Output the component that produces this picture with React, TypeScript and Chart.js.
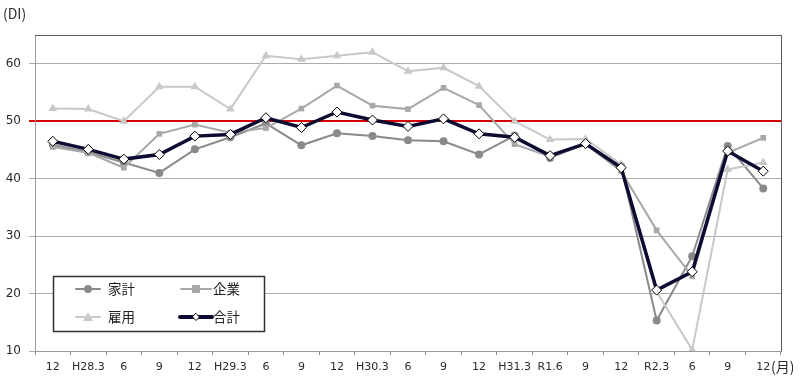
import React, { useEffect, useRef } from "react";
import { Chart, registerables } from "chart.js";

Chart.register(...registerables);

const categories = ["12", "H28.3", "6", "9", "12", "H29.3", "6", "9", "12", "H30.3", "6", "9", "12", "H31.3", "R1.6", "9", "12", "R2.3", "6", "9", "12"];
const kakei = [45.9, 44.6, 42.8, 41.0, 45.1, 47.2, 49.6, 45.8, 47.9, 47.4, 46.7, 46.5, 44.2, 47.5, 43.6, 46.1, 42.2, 15.3, 26.5, 45.7, 38.3];
const kigyo = [45.5, 44.5, 41.9, 47.8, 49.4, 48.0, 48.8, 52.2, 56.2, 52.7, 52.1, 55.8, 52.8, 46.0, 43.8, 46.0, 41.3, 31.0, 23.0, 44.5, 47.1];
const koyo = [52.2, 52.1, 50.0, 56.0, 56.0, 52.1, 61.4, 60.8, 61.4, 62.0, 58.7, 59.3, 56.1, 50.0, 46.8, 46.9, 42.5, 20.3, 10.2, 41.6, 42.8];
const gokei = [46.5, 45.1, 43.4, 44.2, 47.4, 47.7, 50.6, 48.9, 51.6, 50.2, 49.1, 50.4, 47.8, 47.2, 44.0, 46.1, 41.9, 20.6, 23.8, 44.8, 41.3];
const yTicks = [10, 20, 30, 40, 50, 60];
const legendLabels = ["家計", "企業", "雇用", "合計"];

const C_KAKEI = "#8a8a8a";
const C_KIGYO = "#a8a8a8";
const C_KOYO = "#c8c8c8";
const C_GOKEI = "#0c0c32";
const FONT = "'DejaVu Sans', sans-serif";
const CJK = "'Noto Sans CJK JP', sans-serif";

function drawMarker(ctx: CanvasRenderingContext2D, kind: string, x: number, y: number) {
  ctx.save();
  if (kind === "circle") {
    ctx.fillStyle = C_KAKEI;
    ctx.beginPath();
    ctx.arc(x, y, 4, 0, Math.PI * 2);
    ctx.fill();
  } else if (kind === "rect") {
    ctx.fillStyle = C_KIGYO;
    ctx.fillRect(x - 4, y - 4, 8, 8);
  } else if (kind === "triangle") {
    ctx.fillStyle = C_KOYO;
    ctx.beginPath();
    ctx.moveTo(x, y - 5);
    ctx.lineTo(x + 5, y + 4);
    ctx.lineTo(x - 5, y + 4);
    ctx.closePath();
    ctx.fill();
  } else {
    ctx.fillStyle = "#ffffff";
    ctx.strokeStyle = "#000000";
    ctx.lineWidth = 1;
    ctx.beginPath();
    ctx.moveTo(x, y - 3.5);
    ctx.lineTo(x + 3.5, y);
    ctx.lineTo(x, y + 3.5);
    ctx.lineTo(x - 3.5, y);
    ctx.closePath();
    ctx.fill();
    ctx.stroke();
  }
  ctx.restore();
}

const decorPlugin = {
  id: "decor",
  afterDraw(chart: any) {
    const ctx: CanvasRenderingContext2D = chart.ctx;
    const a = chart.chartArea;
    ctx.save();
    // top and right borders
    ctx.strokeStyle = "#5a5a5a";
    ctx.lineWidth = 1;
    ctx.beginPath();
    ctx.moveTo(a.left, a.top + 0.5);
    ctx.lineTo(a.right + 0.5, a.top + 0.5);
    ctx.lineTo(a.right + 0.5, a.bottom);
    ctx.stroke();

    // axis unit labels
    ctx.fillStyle = "#2a2a2a";
    ctx.font = "14px " + CJK;
    ctx.textBaseline = "middle";
    ctx.textAlign = "left";
    ctx.fillText("(DI)", 3, 14);
    ctx.fillText("(月)", 771, 367);

    // legend box
    const bx = 53, by = 276, bw = 211, bh = 55;
    ctx.fillStyle = "#ffffff";
    ctx.fillRect(bx, by, bw, bh);
    ctx.strokeStyle = "#333333";
    ctx.lineWidth = 1.5;
    ctx.strokeRect(bx + 0.5, by + 0.5, bw, bh);

    const items = [
      { label: legendLabels[0], color: C_KAKEI, kind: "circle", x1: 76, x2: 100, tx: 108, y: 289, w: 2 },
      { label: legendLabels[1], color: C_KIGYO, kind: "rect", x1: 181, x2: 211, tx: 213, y: 289, w: 2 },
      { label: legendLabels[2], color: C_KOYO, kind: "triangle", x1: 76, x2: 100, tx: 108, y: 317, w: 2 },
      { label: legendLabels[3], color: C_GOKEI, kind: "diamond", x1: 180, x2: 212, tx: 213, y: 317, w: 4 },
    ];
    for (const it of items) {
      ctx.strokeStyle = it.color;
      ctx.lineWidth = it.w;
      ctx.lineCap = "round";
      ctx.beginPath();
      ctx.moveTo(it.x1, it.y);
      ctx.lineTo(it.x2, it.y);
      ctx.stroke();
      drawMarker(ctx, it.kind, (it.x1 + it.x2) / 2, it.y);
      ctx.fillStyle = "#222222";
      ctx.font = "13.5px " + CJK;
      ctx.textAlign = "left";
      ctx.textBaseline = "middle";
      ctx.fillText(it.label, it.tx, it.y);
    }
    ctx.restore();
  },
};

export default function App() {
  const ref = useRef<HTMLCanvasElement | null>(null);

  useEffect(() => {
    if (!ref.current) return;
    const chart = new Chart(ref.current, {
      type: "line",
      data: {
        labels: categories,
        datasets: [
          {
            label: legendLabels[0],
            data: kakei,
            borderColor: C_KAKEI,
            backgroundColor: C_KAKEI,
            borderWidth: 2,
            pointStyle: "circle",
            pointRadius: 4,
            pointBorderWidth: 0,
            order: 3,
          },
          {
            label: legendLabels[1],
            data: kigyo,
            borderColor: C_KIGYO,
            backgroundColor: C_KIGYO,
            borderWidth: 2,
            pointStyle: "rect",
            pointRadius: 4,
            pointBorderWidth: 0,
            order: 2,
          },
          {
            label: legendLabels[2],
            data: koyo,
            borderColor: C_KOYO,
            backgroundColor: C_KOYO,
            borderWidth: 2,
            pointStyle: "triangle",
            pointRadius: 5,
            pointBorderWidth: 0,
            order: 1,
          },
          {
            label: legendLabels[3],
            data: gokei,
            borderColor: C_GOKEI,
            backgroundColor: "#ffffff",
            borderWidth: 3.5,
            pointStyle: "rectRot",
            pointRadius: 5,
            pointBorderColor: "#000000",
            pointBorderWidth: 1,
            order: 0,
          },
        ],
      },
      options: {
        animation: false,
        responsive: false,
        maintainAspectRatio: false,
        layout: { padding: { left: 0, right: 19, top: 35, bottom: 0 } },
        plugins: {
          legend: { display: false },
          tooltip: { enabled: false },
        },
        elements: { line: { tension: 0 } },
        scales: {
          x: {
            type: "category",
            offset: true,
            afterFit: (s: any) => {
              s.height = 31;
            },
            grid: {
              offset: true,
              drawOnChartArea: false,
              drawTicks: true,
              tickLength: 4,
              color: "#8a8a8a",
            },
            border: { color: "#9a9a9a", width: 1 },
            ticks: {
              color: "#2a2a2a",
              font: { family: FONT, size: 11 },
              padding: 6,
              maxRotation: 0,
              autoSkip: false,
            },
          },
          y: {
            min: 10,
            max: 65,
            afterFit: (s: any) => {
              s.width = 35;
            },
            afterBuildTicks: (s: any) => {
              s.ticks = yTicks.map((v) => ({ value: v }));
            },
            grid: {
              tickLength: 6,
              color: (c: any) => (c.tick && c.tick.value === 50 ? "#d40000" : "#ababab"),
              lineWidth: (c: any) => (c.tick && c.tick.value === 50 ? 2 : 1),
            },
            border: { color: "#9a9a9a", width: 1 },
            ticks: {
              color: "#2a2a2a",
              font: { family: FONT, size: 12 },
              padding: 8,
            },
          },
        },
      },
      plugins: [decorPlugin],
    });
    return () => chart.destroy();
  }, []);

  return (
    <div style={{ position: "absolute", left: 0, top: 0, width: 800, height: 382, background: "#ffffff" }}>
      <canvas ref={ref} width={800} height={382} style={{ display: "block", width: 800, height: 382 }} />
    </div>
  );
}
